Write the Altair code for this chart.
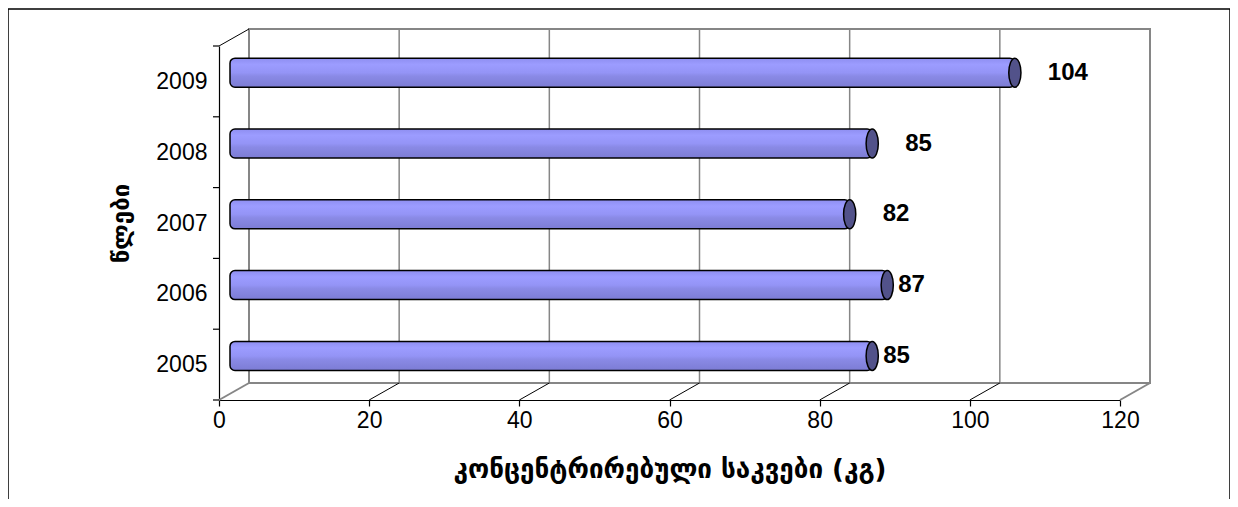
import altair as alt
import pandas as pd

# ---- data ----
years = [2005, 2006, 2007, 2008, 2009]
values = [85, 87, 82, 85, 104]
x_ticks = [0, 20, 40, 60, 80, 100, 120]
y_bounds = [2004.5, 2005.5, 2006.5, 2007.5, 2008.5, 2009.5]
x_title = "კონცენტრირებული საკვები (კგ)"
y_title = "წლები"

bars_df = pd.DataFrame({"year": years, "value": values})
ticks_df = pd.DataFrame({"t": x_ticks})
bounds_df = pd.DataFrame({"b": y_bounds})
one_df = pd.DataFrame({"k": [0]})

# ---- 3D look: depth offsets in pixels ----
DX, DY = 30, -17      # back wall offset
MX, MY = 15, -8.7     # bar (mid depth) offset
GRAY = "#868686"

XMIN, XMAX = x_ticks[0], x_ticks[-1]
YMIN, YMAX = y_bounds[0], y_bounds[-1]

xscale = alt.Scale(domain=[XMIN, XMAX], nice=False, zero=False)
yscale = alt.Scale(domain=[YMIN, YMAX], nice=False, zero=False)

x_axis = alt.Axis(
    values=x_ticks, format="d", grid=False, domainColor="black",
    domainWidth=1.2, tickColor="black", tickSize=6, tickWidth=1.2,
    labelFlush=False, labelFont="Arial", labelFontSize=23, labelColor="black",
    labelPadding=3, titleFont="DejaVu Sans", titleFontSize=26,
    titleFontWeight="bold", titleColor="black", titlePadding=24,
)
y_axis = alt.Axis(
    values=years, format="d", grid=False, ticks=False, tickSize=0,
    domainColor="black", domainWidth=1.2, labelFont="Arial",
    labelFontSize=23, labelColor="black", labelPadding=12,
    labelOverlap=False, labelFlush=False,
    titleFont="DejaVu Sans", titleFontSize=24, titleFontWeight="bold",
    titleColor="black", titlePadding=22,
)


def X(field=None, datum=None):
    if datum is not None:
        return alt.X(datum=datum, scale=xscale, axis=x_axis, title=x_title)
    return alt.X(field, scale=xscale, axis=x_axis, title=x_title)


def Y(field=None, datum=None):
    if datum is not None:
        return alt.Y(datum=datum, scale=yscale, axis=y_axis, title=y_title)
    return alt.Y(field, scale=yscale, axis=y_axis, title=y_title)


border = alt.Chart(one_df).mark_rect(
    fill="transparent", stroke="black", strokeWidth=1.5
).encode(
    x=alt.value(-211), x2=alt.value(1011), y=alt.value(-37), y2=alt.value(520)
)

back_wall = alt.Chart(one_df).mark_rect(
    fill="transparent", stroke=GRAY, strokeWidth=2,
    xOffset=DX, x2Offset=DX, yOffset=DY, y2Offset=DY
).encode(x=X(datum=XMIN), x2=alt.X2(datum=XMAX),
         y=Y(datum=YMIN), y2=alt.Y2(datum=YMAX))

back_grid = alt.Chart(ticks_df).transform_filter(
    f"datum.t > {XMIN} && datum.t < {XMAX}"
).mark_rule(
    color=GRAY, strokeWidth=1.5, xOffset=DX, yOffset=DY, y2Offset=DY
).encode(x=X("t:Q"), y=Y(datum=YMIN), y2=alt.Y2(datum=YMAX))

floor_inner = alt.Chart(ticks_df).transform_filter(
    f"datum.t > {XMIN} && datum.t < {XMAX}"
).mark_rule(color="black", strokeWidth=1, x2Offset=DX, y2Offset=DY).encode(
    x=X("t:Q"), x2="t:Q", y=Y(datum=YMIN), y2=alt.Y2(datum=YMIN)
)

floor_outer = alt.Chart(ticks_df).transform_filter(
    f"datum.t == {XMIN} || datum.t == {XMAX}"
).mark_rule(color=GRAY, strokeWidth=2, x2Offset=DX, y2Offset=DY).encode(
    x=X("t:Q"), x2="t:Q", y=Y(datum=YMIN), y2=alt.Y2(datum=YMIN)
)

top_diag = alt.Chart(one_df).mark_rule(
    color="black", strokeWidth=1, x2Offset=DX, y2Offset=DY
).encode(x=X(datum=XMIN), x2=alt.X2(datum=XMIN),
         y=Y(datum=YMAX), y2=alt.Y2(datum=YMAX))

y_tick_marks = alt.Chart(bounds_df).mark_rule(color="black", strokeWidth=1.2).encode(
    y=Y("b:Q"), x=alt.value(-6), x2=alt.value(0)
)

grad = alt.LinearGradient(
    gradient="linear",
    stops=[
        alt.GradientStop(color="#8e8ef0", offset=0),
        alt.GradientStop(color="#9c9cff", offset=0.22),
        alt.GradientStop(color="#9494f6", offset=0.5),
        alt.GradientStop(color="#8a8ae6", offset=0.62),
        alt.GradientStop(color="#7c7cd4", offset=1),
    ],
    x1=0, x2=0, y1=0, y2=1,
)

base = alt.Chart(bars_df).transform_calculate(
    lo="datum.year - 0.205", hi="datum.year + 0.205", zero="0"
)

bodies = base.mark_rect(
    fill=grad, stroke="black", strokeWidth=1.5, cornerRadius=5,
    xOffset=MX - 4, x2Offset=MX, yOffset=MY, y2Offset=MY
).encode(x=X("zero:Q"), x2="value:Q", y=Y("lo:Q"), y2="hi:Q")

cap_path = "M -0.42 0 A 0.42 1 0 1 0 0.42 0 A 0.42 1 0 1 0 -0.42 0 Z"
caps = base.mark_point(
    shape=cap_path, filled=True, fill="#52528a", stroke="black",
    strokeWidth=1.5, opacity=1, size=841, xOffset=MX, yOffset=MY
).encode(x=X("value:Q"), y=Y("year:Q"))

labels_far = base.transform_filter("datum.year >= 2007").mark_text(
    font="Arial", fontSize=24, fontWeight="bold", color="black",
    align="left", baseline="middle", dx=48, dy=MY
).encode(x=X("value:Q"), y=Y("year:Q"), text="value:Q")

labels_near = base.transform_filter("datum.year < 2007").mark_text(
    font="Arial", fontSize=24, fontWeight="bold", color="black",
    align="left", baseline="middle", dx=26, dy=MY
).encode(x=X("value:Q"), y=Y("year:Q"), text="value:Q")

chart = alt.layer(
    border, back_wall, back_grid, floor_inner, floor_outer, top_diag,
    y_tick_marks, bodies, caps, labels_far, labels_near,
).properties(
    width=901, height=354,
    autosize=alt.AutoSizeParams(type="none"),
    padding={"left": 211, "top": 38, "right": 110, "bottom": 99},
    background="white",
).configure_view(stroke="transparent")

chart.save("out.html", embed_options={"renderer": "svg", "actions": False})
